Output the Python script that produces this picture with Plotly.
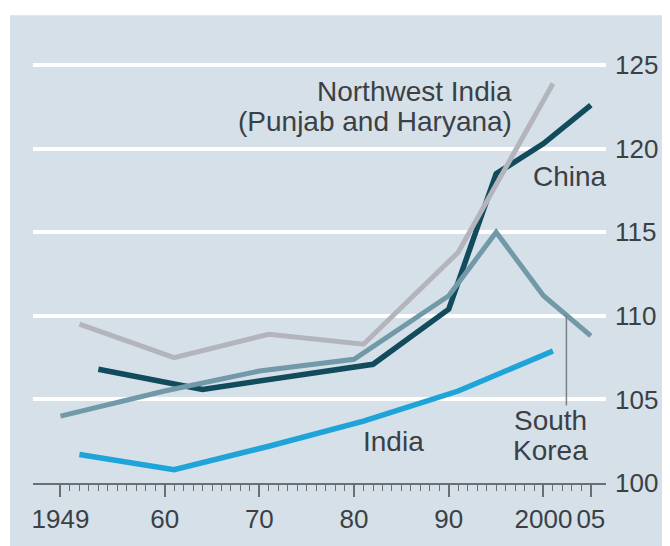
import plotly.graph_objects as go
import numpy as np

# ---- data (sex ratio at birth, boys per 100 girls) ----
nw_years = [1951, 1961, 1971, 1981, 1991, 2001]
nw_vals = [109.5, 107.5, 108.9, 108.3, 113.8, 123.9]

india_years = [1951, 1961, 1971, 1981, 1991, 2001]
india_vals = [101.7, 100.8, 102.2, 103.7, 105.5, 107.9]

china_years = [1953, 1964, 1982, 1990, 1995, 2000, 2005]
china_vals = [106.8, 105.6, 107.1, 110.4, 118.5, 120.3, 122.6]

korea_years = [1949, 1960, 1970, 1980, 1990, 1995, 2000, 2005]
korea_vals = [104.0, 105.5, 106.7, 107.4, 111.2, 115.0, 111.2, 108.8]

x_tickvals = [1949, 1960, 1970, 1980, 1990, 2000, 2005]
x_ticktext = ["1949", "60", "70", "80", "90", "2000", "05"]
y_tickvals = [100, 105, 110, 115, 120, 125]
y_ticktext = ["100", "105", "110", "115", "120", "125"]

# ---- styling ----
BG = "#d5e0e9"
TXT = "#3b4045"
AX = "#6a6f74"
FONT = "Liberation Sans"

# the page body adds an 8px margin, so the figure is 8px smaller on each side
OFF = 8
W, H = 670 - OFF, 546 - OFF
ML, MR, MT, MB = 33 - OFF, 62, 60 - OFF, 61
XR = [1946.1, 2006.6]
YR = [100, 125.3]

fig = go.Figure()

series = [
    (china_years, china_vals, "#114b5c", 5.5),
    (korea_years, korea_vals, "#7199a8", 5),
    (nw_years, nw_vals, "#b4b4bc", 5),
    (india_years, india_vals, "#1ea4d8", 5.5),
]
for xs, ys, col, w in series:
    fig.add_trace(go.Scatter(x=xs, y=ys, mode="lines",
                             line=dict(color=col, width=w),
                             hoverinfo="skip", showlegend=False))

# background panel (paper coords), page pixels 10..670 x 15..546
pw = W - ML - MR
ph = H - MT - MB
bx0, by0 = 10 - OFF, 15 - OFF
fig.add_shape(type="rect", xref="paper", yref="paper",
              x0=(bx0 - ML) / pw, x1=(W + 5 - ML) / pw,
              y0=-(MB + 5) / ph, y1=(H - MB - by0) / ph,
              fillcolor=BG, line=dict(width=0), layer="below")

# South Korea leader line, from the series line down to its label
lead_x = 2002.42
lead_top = float(np.interp(lead_x, korea_years, korea_vals))
fig.add_shape(type="line", xref="x", yref="y",
              x0=lead_x, x1=lead_x, y0=lead_top, y1=104.64,
              line=dict(color="#7b8086", width=1.5))

labels = [
    ("Northwest India", 1996.84, 123.39, "right"),
    ("(Punjab and Haryana)", 1996.84, 121.6, "right"),
    ("China", 1998.63, 118.33, "left"),
    ("India", 1984.2, 102.5, "center"),
    ("South", 2000.73, 103.75, "center"),
    ("Korea", 2000.73, 101.97, "center"),
]
for t, x, y, xa in labels:
    fig.add_annotation(x=x, y=y, text=t, showarrow=False, xanchor=xa,
                       yanchor="middle", font=dict(family=FONT, size=28, color=TXT))

fig.update_xaxes(range=XR, showgrid=False, zeroline=False,
                 showline=True, linecolor=AX, linewidth=1.5,
                 tickmode="array", tickvals=x_tickvals, ticktext=x_ticktext,
                 ticks="outside", ticklen=12, tickwidth=1.5, tickcolor=AX,
                 minor=dict(tickmode="array", tickvals=list(range(1949, 2006)),
                            ticks="outside", ticklen=6, tickwidth=1.2, tickcolor=AX),
                 tickfont=dict(family=FONT, size=26, color=TXT))
fig.update_yaxes(range=YR, side="right", showgrid=True, gridcolor="white",
                 gridwidth=3.5, zeroline=False, showline=False,
                 tickmode="array", tickvals=y_tickvals, ticktext=y_ticktext,
                 ticks="", ticklabelstandoff=8,
                 tickfont=dict(family=FONT, size=26, color=TXT))

fig.update_layout(width=W, height=H, margin=dict(l=ML, r=MR, t=MT, b=MB),
                  paper_bgcolor="white", plot_bgcolor="rgba(0,0,0,0)",
                  showlegend=False)

fig.write_html("out.html")
